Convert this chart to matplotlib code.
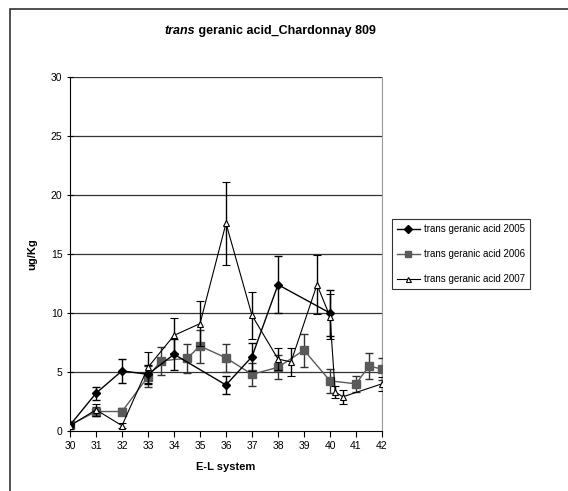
import matplotlib
matplotlib.use("Agg")
import matplotlib.pyplot as plt
from matplotlib.patches import Rectangle

plt.rcParams['font.family'] = ['Liberation Sans', 'DejaVu Sans']

# E-L stage, mean concentration (ug/Kg) and error for each vintage
x_2005 = [30, 31, 32, 33, 34, 36, 37, 38, 40]
y_2005 = [0.5, 3.2, 5.1, 4.8, 6.5, 3.9, 6.3, 12.4, 10.0]
e_2005 = [0.2, 0.55, 1.0, 0.8, 1.3, 0.75, 1.2, 2.4, 1.95]

x_2006 = [30, 31, 32, 33, 33.5, 34.5, 35, 36, 37, 38, 39, 40, 41, 41.5, 42]
y_2006 = [0.5, 1.65, 1.65, 4.6, 5.95, 6.15, 7.2, 6.2, 4.8, 5.4, 6.85, 4.25, 4.0, 5.5, 5.25]
e_2006 = [0.15, 0.4, 0.3, 0.9, 1.2, 1.25, 1.4, 1.2, 1.0, 1.0, 1.4, 1.0, 0.7, 1.1, 0.9]

x_2007 = [30, 31, 32, 33, 34, 35, 36, 37, 38, 38.5, 39.5, 40, 40.2, 40.5, 42]
y_2007 = [0.45, 1.8, 0.45, 5.4, 8.1, 9.1, 17.6, 9.8, 6.1, 5.85, 12.4, 9.7, 3.3, 2.9, 4.0]
e_2007 = [0.15, 0.5, 0.2, 1.3, 1.5, 1.9, 3.5, 2.0, 0.9, 1.2, 2.5, 1.9, 0.5, 0.6, 0.6]

labels = ['trans geranic acid 2005', 'trans geranic acid 2006', 'trans geranic acid 2007']
x_ticks = list(range(30, 43))
y_ticks = [0, 5, 10, 15, 20, 25, 30]

W, H = 568, 491
fig = plt.figure(figsize=(W / 100, H / 100), dpi=100)
fig.patch.set_facecolor('white')

# outer chart frame (runs off the right and bottom edges)
fig.add_artist(Rectangle((10 / W, -0.5), 2.0, 1.5 - 9 / H, transform=fig.transFigure,
                         fill=False, edgecolor='#333333', linewidth=1.2))

ax = fig.add_axes([70 / W, 1 - 431 / H, (382 - 70) / W, (431 - 77) / H])

for y in y_ticks[1:]:
    ax.axhline(y, color='#333333', linewidth=0.9, zorder=0)

c05 = ax.errorbar(x_2005, y_2005, yerr=e_2005, color='black', marker='D', markersize=4.5,
                  linewidth=1.0, capsize=3, elinewidth=1.0, capthick=1.0, ecolor='black',
                  zorder=4)
c06 = ax.errorbar(x_2006, y_2006, yerr=e_2006, color='#5a5a5a', marker='s', markersize=6,
                  linewidth=1.0, capsize=3, elinewidth=1.0, capthick=1.0, ecolor='#333333',
                  zorder=3)
c07 = ax.errorbar(x_2007, y_2007, yerr=e_2007, color='black', marker='^', markersize=4.5,
                  markerfacecolor='white', markeredgecolor='black', markeredgewidth=0.8,
                  linewidth=0.8, capsize=3, elinewidth=1.0, capthick=1.0, ecolor='black',
                  zorder=5)

ax.set_xlim(30, 42)
ax.set_ylim(0, 30)
ax.set_xticks(x_ticks)
ax.set_yticks(y_ticks)
ax.tick_params(axis='both', labelsize=7.5, length=4, width=0.8, direction='out', pad=3)
ax.tick_params(axis='y', direction='inout', length=5)

ax.spines['top'].set_visible(False)
ax.spines['right'].set_color('#999999')
ax.spines['left'].set_color('black')
ax.spines['bottom'].set_color('black')

ax.set_xlabel('E-L system', fontsize=8, fontweight='bold', labelpad=8)
ax.set_ylabel('ug/Kg', fontsize=8, fontweight='bold', labelpad=10)

# title: italic bold "trans" followed by bold remainder, centred as one line
fig.canvas.draw()
renderer = fig.canvas.get_renderer()
t1 = fig.text(0, 1 - 31 / H, 'trans', fontsize=9, fontweight='bold', fontstyle='italic',
              va='center', ha='left')
t2 = fig.text(0, 1 - 31 / H, ' geranic acid_Chardonnay 809', fontsize=9,
              fontweight='bold', va='center', ha='left')
w1 = t1.get_window_extent(renderer).width
w2 = t2.get_window_extent(renderer).width
cx = 270
x0 = cx - (w1 + w2) / 2
t1.set_x(x0 / W)
t2.set_x((x0 + w1) / W)

# legend shows the data lines only, without error-bar glyphs
handles = [c05.lines[0], c06.lines[0], c07.lines[0]]
leg = ax.legend(handles, labels, loc='center left', bbox_to_anchor=(387 / W, 1 - 254 / H),
                bbox_transform=fig.transFigure, fontsize=7, frameon=True,
                fancybox=False, edgecolor='black', handlelength=2.4, markerscale=0.8,
                borderpad=0.5, labelspacing=1.55, handletextpad=0.4)
leg.get_frame().set_linewidth(0.8)

fig.savefig('out.png', dpi=100)
